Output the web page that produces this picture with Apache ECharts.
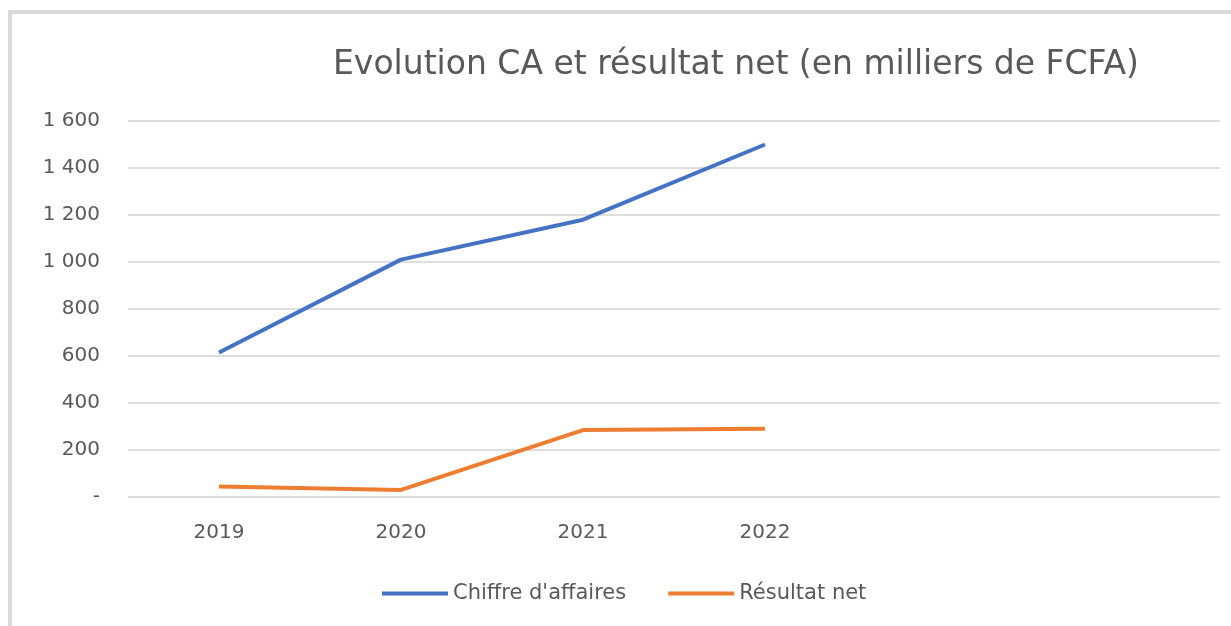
<!doctype html>
<html>
<head>
<meta charset="utf-8">
<title>Evolution CA et résultat net</title>
<script src="https://cdn.jsdelivr.net/npm/echarts@6/dist/echarts.min.js"></script>
<style>
  html, body { margin: 0; padding: 0; background: #fff; }
  #chart { width: 1231px; height: 626px; }
</style>
</head>
<body>
<div id="chart"></div>
<script>
// categories (the two blank ones leave the empty space on the right, like the Excel original)
var years = ['2019', '2020', '2021', '2022', '', ''];
var chiffreAffaires = [615, 1010, 1180, 1500];
var resultatNet = [45, 30, 285, 290];
var yTicks = { min: 0, max: 1600, step: 200 };

var myChart = echarts.init(document.getElementById('chart'));

function fmt(v) {
  if (v === 0) return '-';
  return String(v).replace(/\B(?=(\d{3})+(?!\d))/g, ' ');
}

myChart.setOption({
  backgroundColor: '#ffffff',
  textStyle: { fontFamily: 'DejaVu Sans, sans-serif' },
  graphic: [{
    type: 'rect',
    shape: { x: 10, y: 12, width: 1400, height: 800 },
    style: { fill: 'none', stroke: '#d9d9d9', lineWidth: 4 },
    silent: true
  }],
  title: {
    text: 'Evolution CA et résultat net (en milliers de FCFA)',
    left: 731,
    textAlign: 'center',
    top: 44,
    textStyle: { color: '#595959', fontSize: 33, fontWeight: 'normal' }
  },
  legend: {
    top: 578,
    left: 377,
    icon: 'rect',
    itemWidth: 66,
    itemHeight: 4,
    itemGap: 42,
    textStyle: { color: '#595959', fontSize: 21 },
    data: ["Chiffre d'affaires", 'Résultat net']
  },
  grid: { left: 128, right: 11, top: 121, bottom: 129 },
  xAxis: {
    type: 'category',
    data: years,
    boundaryGap: true,
    axisLine: { show: false },
    axisTick: { show: false },
    axisLabel: { color: '#595959', fontSize: 20, margin: 26 }
  },
  yAxis: {
    type: 'value',
    min: yTicks.min,
    max: yTicks.max,
    interval: yTicks.step,
    axisLine: { show: false },
    axisTick: { show: false },
    axisLabel: { color: '#595959', fontSize: 20, margin: 28, formatter: fmt },
    splitLine: { lineStyle: { color: '#dedede', width: 2 } }
  },
  series: [{
    name: "Chiffre d'affaires",
    type: 'line',
    data: chiffreAffaires,
    symbol: 'none',
    itemStyle: { color: '#4472C4' },
    lineStyle: { color: '#4472C4', width: 4 }
  }, {
    name: 'Résultat net',
    type: 'line',
    data: resultatNet,
    symbol: 'none',
    itemStyle: { color: '#ED7D31' },
    lineStyle: { color: '#ED7D31', width: 4 }
  }]
});
</script>
</body>
</html>
